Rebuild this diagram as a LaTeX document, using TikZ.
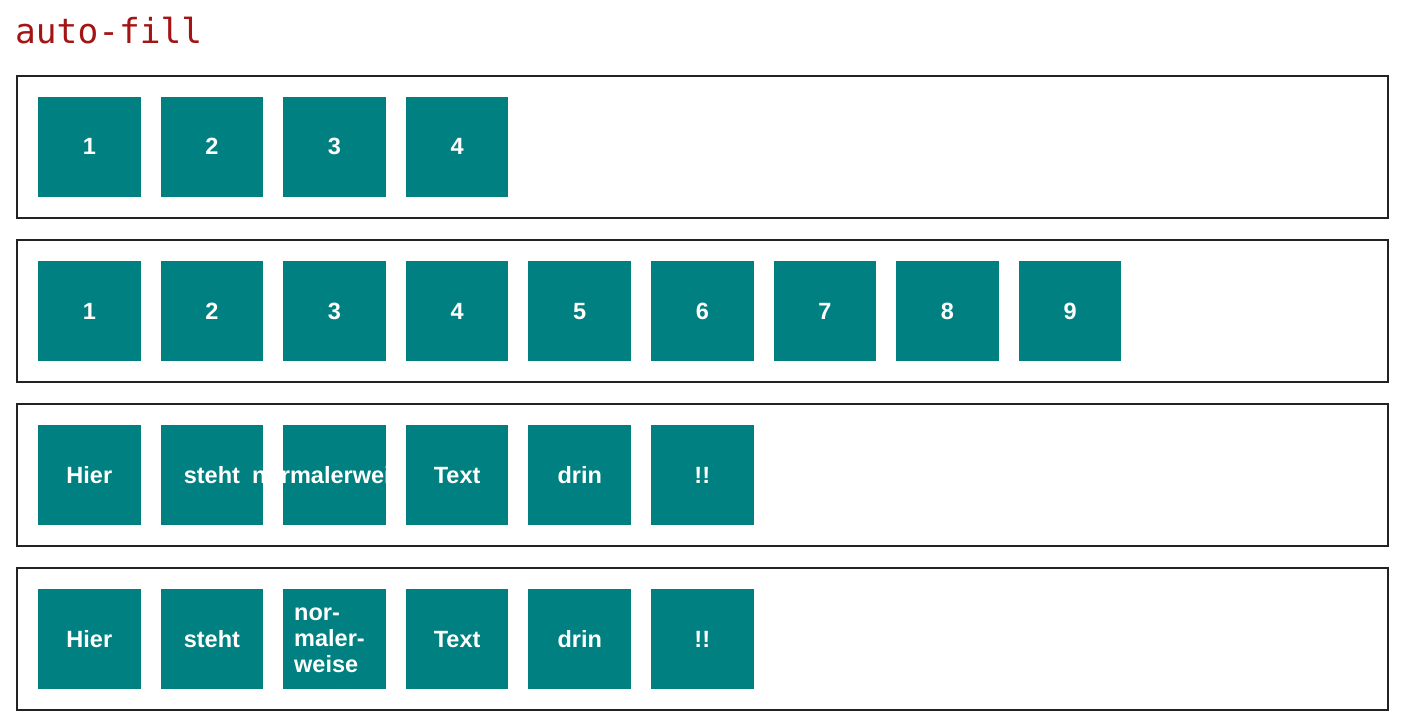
\documentclass[tikz,border=0pt]{standalone}
\usepackage{fontspec}
\setmainfont{Liberation Sans}
\newfontfamily\codefont{DejaVu Sans Mono}
\definecolor{cellteal}{RGB}{0,128,128}
\definecolor{titlered}{RGB}{163,21,21}
\definecolor{framegray}{RGB}{34,34,34}
\begin{document}
\begin{tikzpicture}[x=1pt, y=-1pt,
	gridbox/.style={draw=framegray, line width=1.8pt, minimum width=1371pt, minimum height=142pt, inner sep=0pt},
	cell/.style={fill=cellteal, minimum width=102.6pt, minimum height=100pt, inner sep=0pt},
	celllabel/.style={text=white, font=\bfseries\fontsize{23.5}{26}\selectfont, inner sep=0pt}]
	\useasboundingbox (0,0) rectangle (1403,722);
	\newcommand{\gridBox}[1]{
		% draws one grid container
		% args:
		%     row (ordered top to bottom)
		\node[gridbox] (box_#1) at (702.5, {147+164*(#1-1)}) {};
	}
	\newcommand{\gridCell}[2]{
		% args:
		%     row
		%     column (ordered left to right)
		\node[cell] (item_#1_#2) at ({89.3+122.6*(#2-1)}, {147+164*(#1-1)}) {};
	}
	\newcommand{\gridItem}[3]{
		% args:
		%     row
		%     column
		%     label
		\gridCell{#1}{#2}
		\node[celllabel, anchor=base] (label_#1_#2) at ([yshift=-8pt]item_#1_#2.center) {#3};
	}
	% heading
	\node[anchor=base west, text=titlered, font=\codefont\fontsize{34.5}{40}\selectfont, inner sep=0pt] (title) at (15,44) {auto-fill};
	% containers
	\gridBox{1}
	\gridBox{2}
	\gridBox{3}
	\gridBox{4}
	% first row: four items
	\gridItem{1}{1}{1}
	\gridItem{1}{2}{2}
	\gridItem{1}{3}{3}
	\gridItem{1}{4}{4}
	% second row: nine items
	\gridItem{2}{1}{1}
	\gridItem{2}{2}{2}
	\gridItem{2}{3}{3}
	\gridItem{2}{4}{4}
	\gridItem{2}{5}{5}
	\gridItem{2}{6}{6}
	\gridItem{2}{7}{7}
	\gridItem{2}{8}{8}
	\gridItem{2}{9}{9}
	% third row: the long word runs out of its item,
	% the next item covers what is left of it
	\gridItem{3}{1}{Hier}
	\gridItem{3}{2}{steht}
	\gridItem{3}{3}{normalerweise}
	\gridItem{3}{4}{Text}
	\gridItem{3}{5}{drin}
	\gridItem{3}{6}{!!}
	% fourth row: the long word is hyphenated
	\gridItem{4}{1}{Hier}
	\gridItem{4}{2}{steht}
	\gridCell{4}{3}
	\node[celllabel, align=left, anchor=west] (label_4_3) at ([xshift=11pt, yshift=-1pt]item_4_3.west) {nor-\\maler-\\weise};
	\gridItem{4}{4}{Text}
	\gridItem{4}{5}{drin}
	\gridItem{4}{6}{!!}
\end{tikzpicture}
\end{document}
